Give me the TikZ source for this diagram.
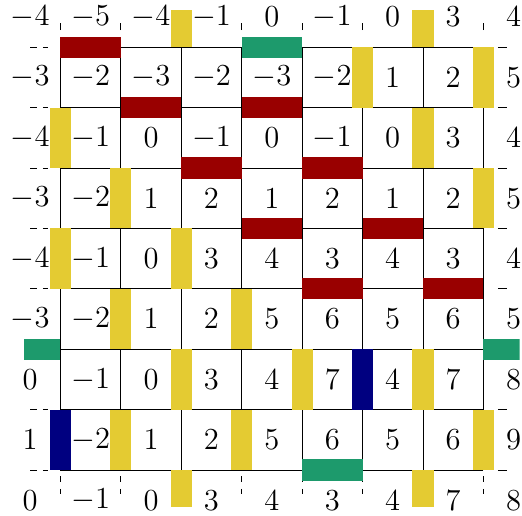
\documentclass[tikz,border=0pt]{standalone}
\definecolor{barred}{RGB}{153,0,0}
\definecolor{baryellow}{RGB}{228,203,50}
\definecolor{bargreen}{RGB}{29,154,108}
\definecolor{barblue}{RGB}{0,0,128}
\begin{document}
\begin{tikzpicture}[
  every node/.style={font=\Large,inner sep=1pt},
  tick/.style={dashed},
  hbar/.style={fill=#1},
  vbar/.style={fill=#1}]
\useasboundingbox (0,0.24) rectangle (8.64,8.78);
\draw (1,1) grid (8,8);
% outer ticks
\foreach \k in {1,...,8}{
  \draw (\k,8.28) -- (\k,8.4);
  \draw[tick] (\k,0.9) -- (\k,0.6);
  \draw[tick] (0.5,\k) -- (0.8,\k);
  \draw (8.24,\k) -- (8.39,\k);
}
\begin{scope}
\clip (0.4,0.4) rectangle (8.6,8.6);
% horizontal bars: column / line
\foreach \c/\k in {1/8,2/7,4/7,3/6,5/6,4/5,6/5,5/4,7/4}
  \fill[hbar=barred] (\c,\k-0.175) rectangle ++(1,0.35);
\foreach \c/\k in {4/8,0/3,8/3,5/1}
  \fill[hbar=bargreen] (\c,\k-0.175) rectangle ++(1,0.35);
% vertical bars: line / row
\foreach \k/\j in {3/8,7/8,6/7,8/7,1/6,7/6,2/5,8/5,1/4,3/4,2/3,4/3,
                   3/2,5/2,7/2,2/1,4/1,8/1,3/0,7/0}
  \fill[vbar=baryellow] (\k-0.175,\j) rectangle ++(0.35,1);
\foreach \k/\j in {6/2,1/1}
  \fill[vbar=barblue] (\k-0.175,\j) rectangle ++(0.35,1);
\end{scope}
% heights
\foreach \row [count=\rw from 0] in {
  {-4,-5,-4,-1,0,-1,0,3,4},
  {-3,-2,-3,-2,-3,-2,1,2,5},
  {-4,-1,0,-1,0,-1,0,3,4},
  {-3,-2,1,2,1,2,1,2,5},
  {-4,-1,0,3,4,3,4,3,4},
  {-3,-2,1,2,5,6,5,6,5},
  {0,-1,0,3,4,7,4,7,8},
  {1,-2,1,2,5,6,5,6,9},
  {0,-1,0,3,4,3,4,7,8}}
  \foreach \v [count=\col from 0] in \row
    \node (h\rw-\col) at (\col+0.5,8.5-\rw) {$\v$};
\end{tikzpicture}
\end{document}
